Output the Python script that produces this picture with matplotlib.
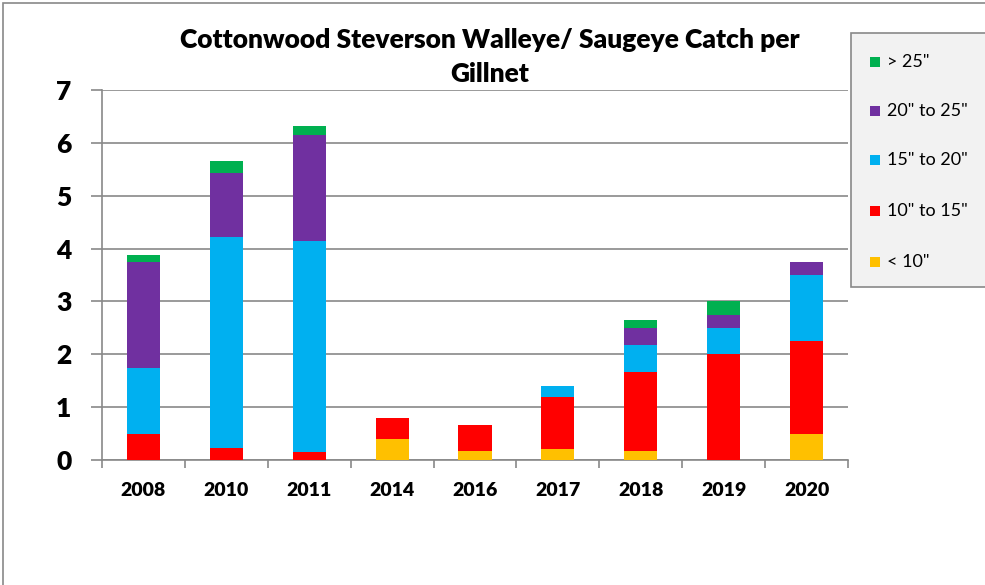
import matplotlib
matplotlib.use("Agg")
import matplotlib.pyplot as plt
from matplotlib.patches import Rectangle

years = ["2008", "2010", "2011", "2014", "2016", "2017", "2018", "2019", "2020"]
lt10 = [0.0, 0.0, 0.0, 0.4, 0.17, 0.2, 0.17, 0.0, 0.5]
s10_15 = [0.5, 0.22, 0.15, 0.4, 0.5, 1.0, 1.5, 2.0, 1.75]
s15_20 = [1.25, 4.0, 4.0, 0.0, 0.0, 0.2, 0.5, 0.5, 1.25]
s20_25 = [2.0, 1.21, 2.0, 0.0, 0.0, 0.0, 0.33, 0.25, 0.25]
gt25 = [0.125, 0.23, 0.17, 0.0, 0.0, 0.0, 0.15, 0.25, 0.0]

series = [("< 10\"", lt10, "#FFC000"),
          ("10\" to 15\"", s10_15, "#FF0000"),
          ("15\" to 20\"", s15_20, "#00B0F0"),
          ("20\" to 25\"", s20_25, "#7030A0"),
          ("> 25\"", gt25, "#00B050")]

plt.rcParams['font.family'] = ['Lato', 'DejaVu Sans']

fig = plt.figure(figsize=(9.85, 5.85), dpi=100)
ax = fig.add_axes([102/985, 1-460/585, (848-102)/985, 370/585])

x = list(range(len(years)))
bottom = [0.0]*len(years)
for name, vals, col in series:
    ax.bar(x, vals, width=0.4, bottom=bottom, color=col, label=name, zorder=3)
    bottom = [b+v for b, v in zip(bottom, vals)]

ax.set_xlim(-0.5, len(years)-0.5)
ax.set_ylim(0, 7)
ax.set_yticks(range(0, 8))
ax.set_yticklabels([str(i) for i in range(8)], fontsize=19, fontweight='heavy')
ax.set_xticks(x)
ax.set_xticklabels(years, fontsize=14, fontweight='heavy')
ax.tick_params(axis='x', length=0, pad=16)
ax.set_xticks([i+0.5 for i in range(-1, len(years))], minor=True)
ax.tick_params(axis='x', which='minor', length=6, color='#898989', width=1.2)
ax.tick_params(axis='y', length=8, color='#898989', width=1.2, pad=14)
ax.yaxis.grid(True, color='#898989', linewidth=1.2, zorder=0)
for s in ['top', 'right']:
    ax.spines[s].set_visible(False)
for s in ['left', 'bottom']:
    ax.spines[s].set_color('#898989')
    ax.spines[s].set_linewidth(1.2)

fig.text(490/985, 1-40/585, "Cottonwood Steverson Walleye/ Saugeye Catch per", ha='center', va='center',
         fontsize=19, fontweight='heavy')
fig.text(490/985, 1-74/585, "Gillnet", ha='center', va='center', fontsize=19, fontweight='heavy')

# legend box
lx0, ly0, lx1, ly1 = 851, 33, 990, 287
fig.patches.append(Rectangle((lx0/985, 1-ly1/585), (lx1-lx0)/985, (ly1-ly0)/585,
                             transform=fig.transFigure, facecolor='#F2F2F2', edgecolor='#898989',
                             linewidth=1.2, zorder=5))
ys = [62, 111, 160, 211, 262]
for (name, vals, col), yy in zip(series[::-1], ys):
    fig.patches.append(Rectangle((870/985, 1-(yy+5)/585), 10/985, 10/585, transform=fig.transFigure,
                                 facecolor=col, edgecolor='none', zorder=6))
    fig.text(887/985, 1-yy/585, name, ha='left', va='center', fontsize=13, zorder=7)

# figure border
fig.patches.append(Rectangle((3/985, -0.01), 1.1, 1-3/585+0.01, transform=fig.transFigure,
                             facecolor='none', edgecolor='#898989', linewidth=1.2, zorder=1))

fig.savefig("out.png", dpi=100)
